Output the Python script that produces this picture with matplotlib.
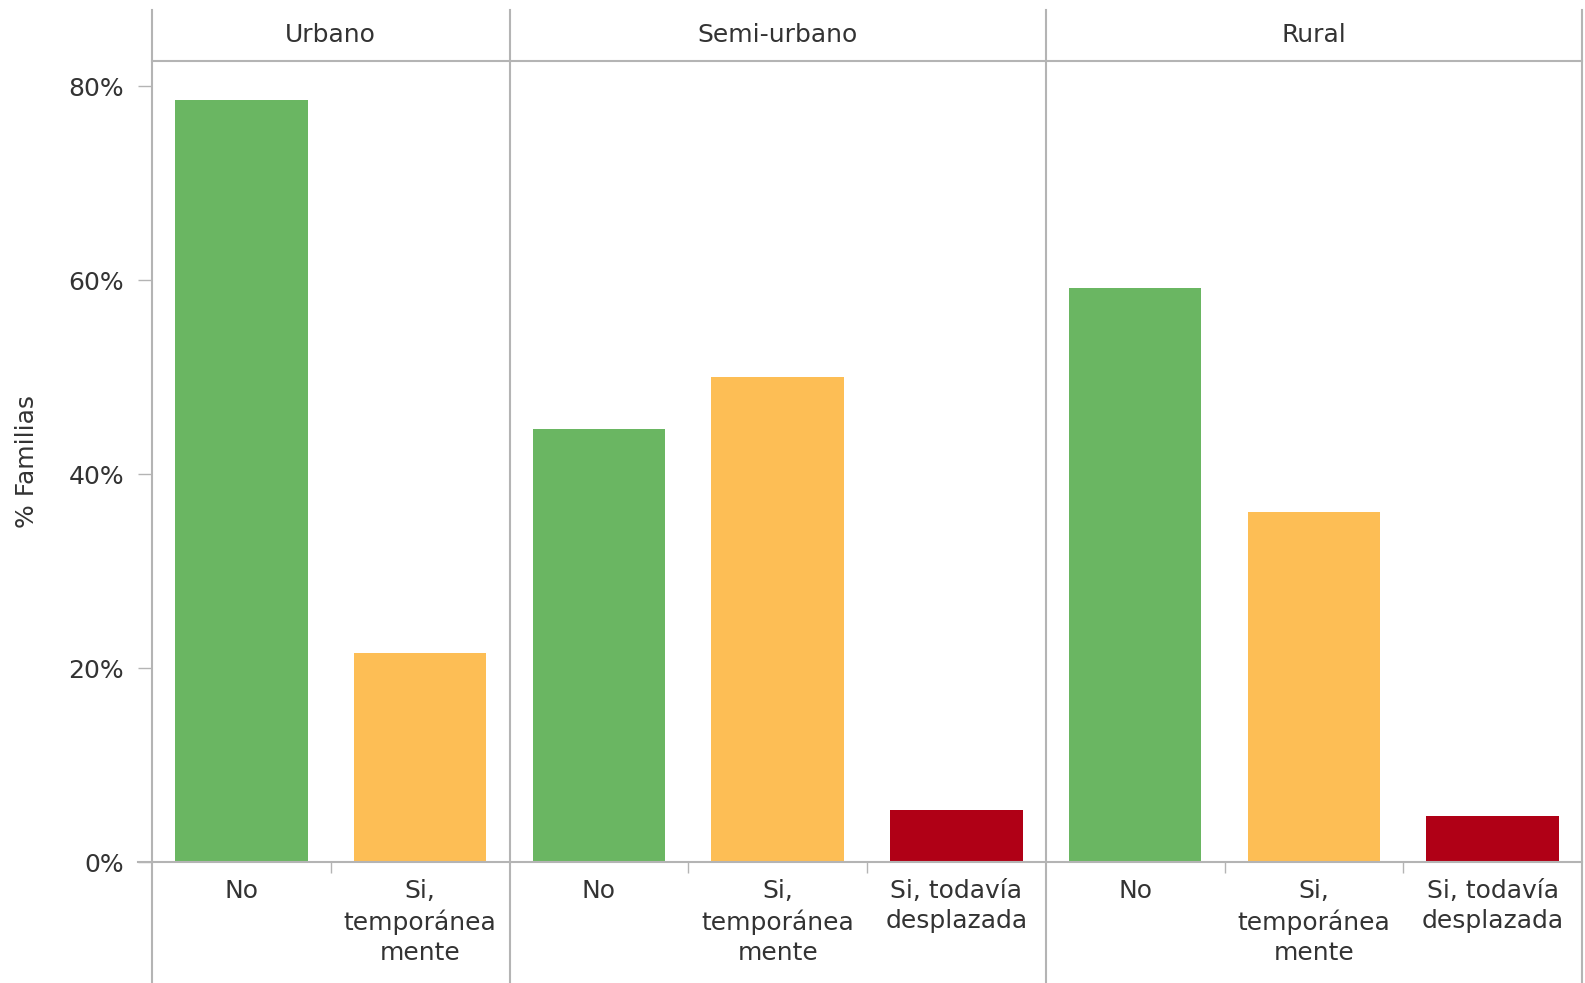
import matplotlib
matplotlib.use("Agg")
import matplotlib.pyplot as plt
from matplotlib.ticker import FuncFormatter

plt.rcParams["font.family"] = ["DejaVu Sans"]

# data
areas = ["Urbano", "Semi-urbano", "Rural"]
categories = [
    ["No", "Si,\ntemporánea\nmente"],
    ["No", "Si,\ntemporánea\nmente", "Si, todavía\ndesplazada"],
    ["No", "Si,\ntemporánea\nmente", "Si, todavía\ndesplazada"],
]
values = [
    [78.6, 21.5],
    [44.6, 50.0, 5.4],
    [59.2, 36.1, 4.7],
]
y_ticks = [0, 20, 40, 60, 80]

cat_colors = {
    "No": "#6ab662",
    "Si,\ntemporánea\nmente": "#fdbe55",
    "Si, todavía\ndesplazada": "#b00016",
}
text_color = "#333333"
line_color = "#b4b4b4"
fs = 18

W, H = 1585, 983
fig = plt.figure(figsize=(W / 100, H / 100), dpi=100)
left, right, top, bottom = 152, 1582, 61, 862
ax = fig.add_axes([left / W, 1 - bottom / H, (right - left) / W, (bottom - top) / H])

# flatten panels into one continuous axis of slots
x_pos, heights, colors, labels = [], [], [], []
boundaries = [0]
minor = []
slot = 0
for cats, vals in zip(categories, values):
    for i, (c, v) in enumerate(zip(cats, vals)):
        x_pos.append(slot + 0.5)
        heights.append(v)
        colors.append(cat_colors[c])
        labels.append(c)
        if i > 0:
            minor.append(slot)
        slot += 1
    boundaries.append(slot)

ax.bar(x_pos, heights, width=0.74, color=colors, zorder=2)

px_per_pct = (862 - 86) / 80
ax.set_ylim(0, (bottom - top) / px_per_pct)
ax.set_xlim(0, slot)

ax.set_yticks(y_ticks)
ax.yaxis.set_major_formatter(FuncFormatter(lambda v, _: f"{v:.0f}%"))
ax.tick_params(axis="y", length=10, width=1, color=line_color, pad=10,
               labelsize=fs, labelcolor=text_color)

ax.set_xticks(x_pos)
ax.set_xticklabels(labels, fontsize=fs, color=text_color, linespacing=1.32)
ax.tick_params(axis="x", which="major", length=0, pad=12)
ax.set_xticks(minor, minor=True)
ax.tick_params(axis="x", which="minor", length=8, width=1, color=line_color)

for side in ["left", "right"]:
    ax.spines[side].set_visible(False)
ax.spines["top"].set_color(line_color)
ax.spines["bottom"].set_color(line_color)
ax.spines["top"].set_linewidth(1.5)
ax.spines["bottom"].set_linewidth(1.5)

# panel dividers running through header and label band
ax_h = bottom - top
for b in boundaries:
    ax.axvline(b, ymin=-(H - bottom) / ax_h, ymax=1 + (top - 10) / ax_h,
               color=line_color, lw=1.5, clip_on=False, zorder=3)

# bottom axis line extends a bit to the left of the first panel
ax.plot([-(left - 138) / ((right - left) / slot), 0], [0, 0],
        color=line_color, lw=1.5, clip_on=False)

# panel headers
for name, b0, b1 in zip(areas, boundaries[:-1], boundaries[1:]):
    ax.text((b0 + b1) / 2, 1 + (top - 35) / ax_h, name,
            transform=ax.get_xaxis_transform(), ha="center", va="center",
            fontsize=fs, color=text_color)

ax.set_ylabel("% Familias", fontsize=fs, color=text_color)
ax.yaxis.set_label_coords(-(left - 39) / (right - left), 0.5)

fig.savefig("out.png", dpi=100)
